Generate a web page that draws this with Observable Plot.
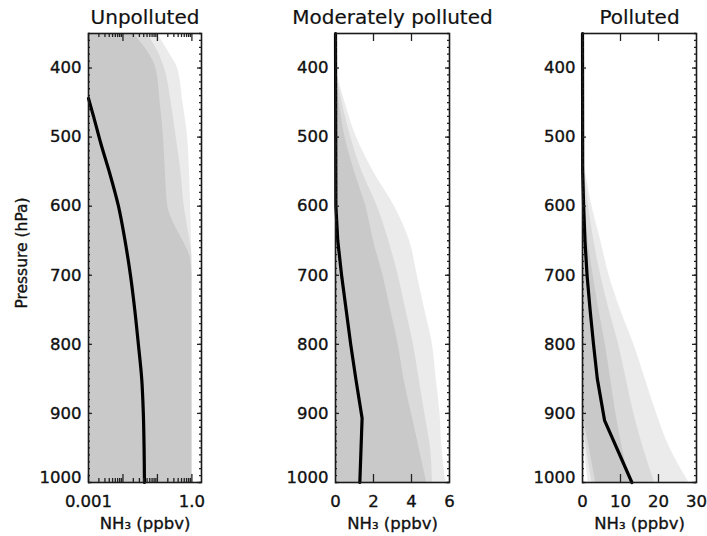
<!DOCTYPE html>
<html><head><meta charset="utf-8">
<script src="https://cdn.jsdelivr.net/npm/d3@7"></script>
<script src="https://cdn.jsdelivr.net/npm/@observablehq/plot@0.6"></script>
<style>
body{margin:0;background:#fff;}
#chart{position:relative;width:707px;height:536px;overflow:hidden;background:#fff;}
#chart svg{position:absolute;top:0;}
</style></head><body><div id="chart"></div>
<script>
// ---------------- data ----------------
const titles = ["Unpolluted", "Moderately polluted", "Polluted"];
const xTitle = "NH\u2083 (ppbv)";
const yTitle = "Pressure (hPa)";
const pressureTicks = [400, 500, 600, 700, 800, 900, 1000];
const pressureLabels = ["400", "500", "600", "700", "800", "900", "1000"];
const pressureMinorTicks = [350,360,370,380,390,400,410,420,430,440,450,460,470,480,490,500,510,520,530,540,550,560,570,580,590,600,610,620,630,640,650,660,670,680,690,700,710,720,730,740,750,760,770,780,790,800,810,820,830,840,850,860,870,880,890,900,910,920,930,940,950,960,970,980,990,1000];

// Panel 1: Unpolluted (log x)
const p1XMajor = [0.001, 0.01, 0.1, 1];
const p1XMinor = [0.002,0.003,0.004,0.005,0.006,0.007,0.008,0.009,0.02,0.03,0.04,0.05,0.06,0.07,0.08,0.09,0.2,0.3,0.4,0.5,0.6,0.7,0.8,0.9];
const p1XLabelVals = [0.001, 1];
const p1XLabels = ["0.001", "1.0"];
const p1MeanP = [444, 470, 510, 550, 600, 650, 700, 750, 800, 850, 900, 950, 1000];
const p1MeanX = [0.001, 0.0014, 0.0023, 0.0040, 0.0074, 0.0115, 0.0165, 0.022, 0.028, 0.035, 0.039, 0.041, 0.042];
const p1EnvP     = [350, 375, 400, 450, 500, 550, 600, 625, 650, 675, 700, 1000];
const p1EnvOuter = [0.1, 0.2, 0.38, 0.55, 0.75, 0.85, 0.92, 0.95, 0.98, 1.0, 1.0, 1.0];
const p1EnvMid   = [0.05, 0.1, 0.16, 0.25, 0.35, 0.48, 0.6, 0.72, 0.88, 1.0, 1.0, 1.0];
const p1EnvCore  = [0.02, 0.05, 0.09, 0.12, 0.15, 0.17, 0.2, 0.3, 0.55, 0.9, 1.0, 1.0];

// Panel 2: Moderately polluted (0-6)
const p2XMajor = [2, 4];
const p2XLabelVals = [0, 2, 4, 6];
const p2XLabels = ["0", "2", "4", "6"];
const p2MeanP = [350, 600, 650, 700, 750, 800, 850, 907, 1000];
const p2MeanX = [0, 0.02, 0.12, 0.32, 0.56, 0.8, 1.07, 1.4, 1.28];
const p2EnvP     = [400, 450, 500, 550, 600, 650, 700, 750, 800, 850, 900, 950, 1000];
const p2EnvOuter = [0, 0.5, 1.1, 2.0, 3.1, 3.9, 4.3, 4.7, 5.1, 5.3, 5.5, 5.6, 5.8];
const p2EnvMid   = [0, 0.35, 0.8, 1.4, 2.2, 2.8, 3.3, 3.7, 4.1, 4.4, 4.7, 5.0, 5.1];
const p2EnvCore  = [0, 0.2, 0.5, 1.0, 1.6, 2.0, 2.5, 2.9, 3.3, 3.6, 4.0, 4.4, 4.8];

// Panel 3: Polluted (0-30)
const p3XMajor = [10, 20];
const p3XLabelVals = [0, 10, 20, 30];
const p3XLabels = ["0", "10", "20", "30"];
const p3MeanP = [350, 550, 600, 650, 700, 750, 800, 850, 910, 1000];
const p3MeanX = [0, 0.05, 0.3, 0.65, 1.2, 2.0, 2.9, 3.9, 5.8, 13.0];
const p3EnvP       = [520, 550, 600, 650, 700, 750, 800, 850, 900, 950, 1000];
const p3EnvOuterLo = [0, 0, 0, 0, 0, 0, 0, 0, 0, 0.5, 1.5];
const p3EnvOuterHi = [0, 0.8, 2.5, 4.8, 7, 10, 13.5, 16.5, 19.5, 23, 28];
const p3EnvMidLo   = [0, 0, 0, 0, 0, 0, 0, 0, 0.1, 1.0, 2.5];
const p3EnvMidHi   = [0, 0.5, 1.6, 3.0, 4.8, 7, 9.5, 11.5, 13.5, 16, 19];
const p3EnvCoreLo  = [0, 0, 0, 0, 0, 0, 0, 0, 0.3, 1.8, 3.5];
const p3EnvCoreHi  = [0, 0.2, 0.8, 1.5, 2.8, 4.3, 6.0, 7.4, 8.8, 10.5, 12.5];

// ---------------- layout / style ----------------
const H = 536, MT = 33, MB = 54, FRAME_H = H - MT - MB;
const FONT = "DejaVu Sans";
const INK = "#111";
const COLORS = {outer: "#ebebeb", mid: "#dadada", core: "#c9c9c9"};
const TXT = {fill: INK, stroke: INK, strokeWidth: 0.35, lineAnchor: "middle"};

function rows(ps, lo, hi) {
  return ps.map((p, i) => ({p, lo: Array.isArray(lo) ? lo[i] : lo, hi: hi[i]}));
}

function panel(cfg) {
  const frameW = cfg.width - cfg.marginLeft - cfg.marginRight;
  const tickStyle = {stroke: "#222", strokeWidth: 1.3};
  const marks = [];
  for (const L of cfg.layers) {
    marks.push(Plot.areaX(L.data, {y: "p", x1: "lo", x2: "hi", fill: L.color, curve: "monotone-y"}));
  }
  marks.push(Plot.line(cfg.mean, {x: "v", y: "p", stroke: "#000", strokeWidth: 3.2, curve: cfg.curve}));
  // x ticks, inward, bottom & top
  for (const [vals, len] of [[cfg.xMajor, 8], [cfg.xMinor || [], 4]]) {
    marks.push(Plot.tickX(vals, {x: d => d, insetTop: FRAME_H - len, ...tickStyle}));
    marks.push(Plot.tickX(vals, {x: d => d, insetBottom: FRAME_H - len, ...tickStyle}));
  }
  // y ticks, inward, left & right
  for (const [vals, len] of [[pressureTicks, 4], [pressureMinorTicks, 2]]) {
    marks.push(Plot.tickY(vals, {y: d => d, insetRight: frameW - len, ...tickStyle}));
    marks.push(Plot.tickY(vals, {y: d => d, insetLeft: frameW - len, ...tickStyle}));
  }
  marks.push(Plot.frame({stroke: "#1a1a1a", strokeWidth: 1.6}));
  // y tick labels
  const yl = pressureTicks.map((p, i) => ({p, t: pressureLabels[i]}));
  marks.push(Plot.text(yl.filter(d => d.p !== 1000), {y: "p", text: "t", frameAnchor: "left", dx: -7, textAnchor: "end", fontSize: 16.5, ...TXT}));
  marks.push(Plot.text(yl.filter(d => d.p === 1000), {y: "p", text: "t", frameAnchor: "left", dx: -7, dy: -4.5, textAnchor: "end", fontSize: 16.5, ...TXT}));
  // x tick labels
  const xl = cfg.xLabelVals.map((v, i) => ({v, t: cfg.xLabels[i]}));
  marks.push(Plot.text(xl, {x: "v", text: "t", frameAnchor: "bottom", dy: 19.5, fontSize: 16.5, ...TXT}));
  // titles
  marks.push(Plot.text([cfg.title], {text: d => d, frameAnchor: "top", dy: -16, fontSize: 20, ...TXT, strokeWidth: 0.2}));
  marks.push(Plot.text([xTitle], {text: d => d, frameAnchor: "bottom", dy: 41, fontSize: 16.5, ...TXT}));
  if (cfg.yTitle) {
    marks.push(Plot.text([cfg.yTitle], {text: d => d, frameAnchor: "left", textAnchor: "middle", rotate: -90, dx: -66, dy: -5, fontSize: 15.5, ...TXT}));
  }
  const svg = Plot.plot({
    width: cfg.width, height: H,
    marginLeft: cfg.marginLeft, marginRight: cfg.marginRight, marginTop: MT, marginBottom: MB,
    style: {fontFamily: FONT, background: "transparent", overflow: "visible"},
    x: {type: cfg.xType, domain: cfg.xDomain, axis: null},
    y: {domain: [350, 1000], reverse: true, axis: null},
    marks
  });
  svg.style.left = cfg.left + "px";
  return svg;
}

const chart = document.getElementById("chart");
chart.append(panel({
  left: 0, width: 230, marginLeft: 88, marginRight: 29,
  title: titles[0], yTitle,
  xType: "log", xDomain: [0.001, 1.9],
  xMajor: p1XMajor, xMinor: p1XMinor, xLabelVals: p1XLabelVals, xLabels: p1XLabels,
  layers: [
    {data: rows(p1EnvP, 0.001, p1EnvOuter), color: COLORS.outer},
    {data: rows(p1EnvP, 0.001, p1EnvMid), color: COLORS.mid},
    {data: rows(p1EnvP, 0.001, p1EnvCore), color: COLORS.core}
  ],
  mean: p1MeanP.map((p, i) => ({p, v: p1MeanX[i]})), curve: "monotone-y"
}));
chart.append(panel({
  left: 240, width: 230, marginLeft: 95, marginRight: 21,
  title: titles[1],
  xType: "linear", xDomain: [0, 6],
  xMajor: p2XMajor, xLabelVals: p2XLabelVals, xLabels: p2XLabels,
  layers: [
    {data: rows(p2EnvP, 0, p2EnvOuter), color: COLORS.outer},
    {data: rows(p2EnvP, 0, p2EnvMid), color: COLORS.mid},
    {data: rows(p2EnvP, 0, p2EnvCore), color: COLORS.core}
  ],
  mean: p2MeanP.map((p, i) => ({p, v: p2MeanX[i]})), curve: "linear"
}));
chart.append(panel({
  left: 490, width: 217, marginLeft: 92, marginRight: 11,
  title: titles[2],
  xType: "linear", xDomain: [0, 30],
  xMajor: p3XMajor, xLabelVals: p3XLabelVals, xLabels: p3XLabels,
  layers: [
    {data: rows(p3EnvP, p3EnvOuterLo, p3EnvOuterHi), color: COLORS.outer},
    {data: rows(p3EnvP, p3EnvMidLo, p3EnvMidHi), color: COLORS.mid},
    {data: rows(p3EnvP, p3EnvCoreLo, p3EnvCoreHi), color: COLORS.core}
  ],
  mean: p3MeanP.map((p, i) => ({p, v: p3MeanX[i]})), curve: "linear"
}));
</script></body></html>
